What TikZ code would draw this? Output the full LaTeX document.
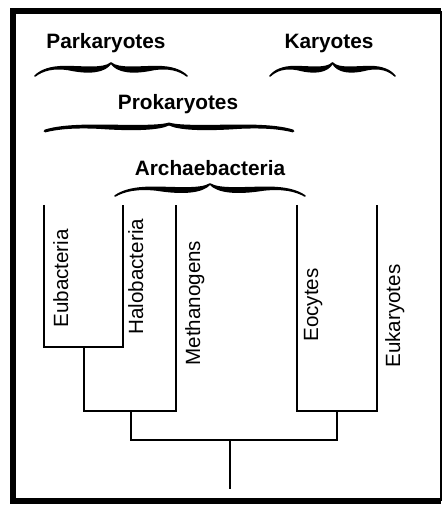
\documentclass[tikz,border=0pt]{standalone}
\usepackage{fontspec}
\setmainfont{Liberation Sans}
\usepackage{tikz}

\begin{document}
\begin{tikzpicture}[
    x=0.5pt, y=-0.5pt,
    head/.style={font=\fontsize{10.4}{12}\selectfont\bfseries, inner sep=0pt, anchor=base},
    leaf/.style={font=\fontsize{10.3}{12}\selectfont, inner sep=0pt, rotate=90, anchor=base west},
    branch/.style={line width=1.3pt},
    frame/.style={line width=3.2pt},
    brace line/.style={line width=0.8pt},
    cbrace/.pic={
      \filldraw[brace line, line join=round]
        (0,0) .. controls (0.04,0.45) and (0.1,0.72) .. (0.2,0.72)
        .. controls (0.32,0.72) and (0.45,0.5) .. (0.5,1)
        .. controls (0.55,0.5) and (0.68,0.72) .. (0.8,0.72)
        .. controls (0.9,0.72) and (0.96,0.45) .. (1,0)
        .. controls (0.95,0.45) and (0.88,0.68) .. (0.78,0.5)
        .. controls (0.64,0.15) and (0.54,0.3) .. (0.5,1)
        .. controls (0.46,0.3) and (0.36,0.15) .. (0.22,0.5)
        .. controls (0.12,0.68) and (0.05,0.45) .. (0,0) -- cycle;
    }
]
\useasboundingbox (0,0) rectangle (443,506);

% frame
\coordinate (fr-nw) at (13,11);
\coordinate (fr-ne) at (441,11);
\coordinate (fr-sw) at (13,501);
\coordinate (fr-se) at (441,501);
\draw[frame] (fr-ne) -- (fr-nw) -- (fr-sw) -- (fr-se);
\draw[line width=1pt] (fr-se) -- (fr-ne);

% group names and braces
\node[head] (park) at (106,49) {Parkaryotes};
\node[head] (kary) at (329,49) {Karyotes};
\node[head] (prok) at (178,110) {Prokaryotes};
\node[head] (arch) at (210,176) {Archaebacteria};
\pic[xscale=152, yscale=-13] at (35,76) {cbrace};
\pic[xscale=125, yscale=-13] at (270,76) {cbrace};
\pic[xscale=248, yscale=-7, brace line/.style={line width=1.4pt}] at (45,131) {cbrace};
\pic[xscale=190, yscale=-12] at (115,196) {cbrace};

% tree
\coordinate (eub) at (44,205);
\coordinate (hal) at (123,205);
\coordinate (met) at (176,205);
\coordinate (eoc) at (297,205);
\coordinate (euk) at (377,205);
\coordinate (j1) at (84,347);
\coordinate (j2) at (131,411);
\coordinate (j3) at (337,411);
\coordinate (root) at (230,440);
\coordinate (base) at (230,489);
\draw[branch] (eub) |- (j1) -| (hal);
\draw[branch] (j1) |- (j2) -| (met);
\draw[branch] (eoc) |- (j3) -| (euk);
\draw[branch] (j2) |- (root) -| (j3);
\draw[branch] (root) -- (base);

\node[leaf] (eub-l) at (68,328) {Eubacteria};
\node[leaf] (hal-l) at (143,335) {Halobacteria};
\node[leaf] (met-l) at (200,366) {Methanogens};
\node[leaf] (eoc-l) at (318,342) {Eocytes};
\node[leaf] (euk-l) at (400,368) {Eukaryotes};
\end{tikzpicture}
\end{document}
